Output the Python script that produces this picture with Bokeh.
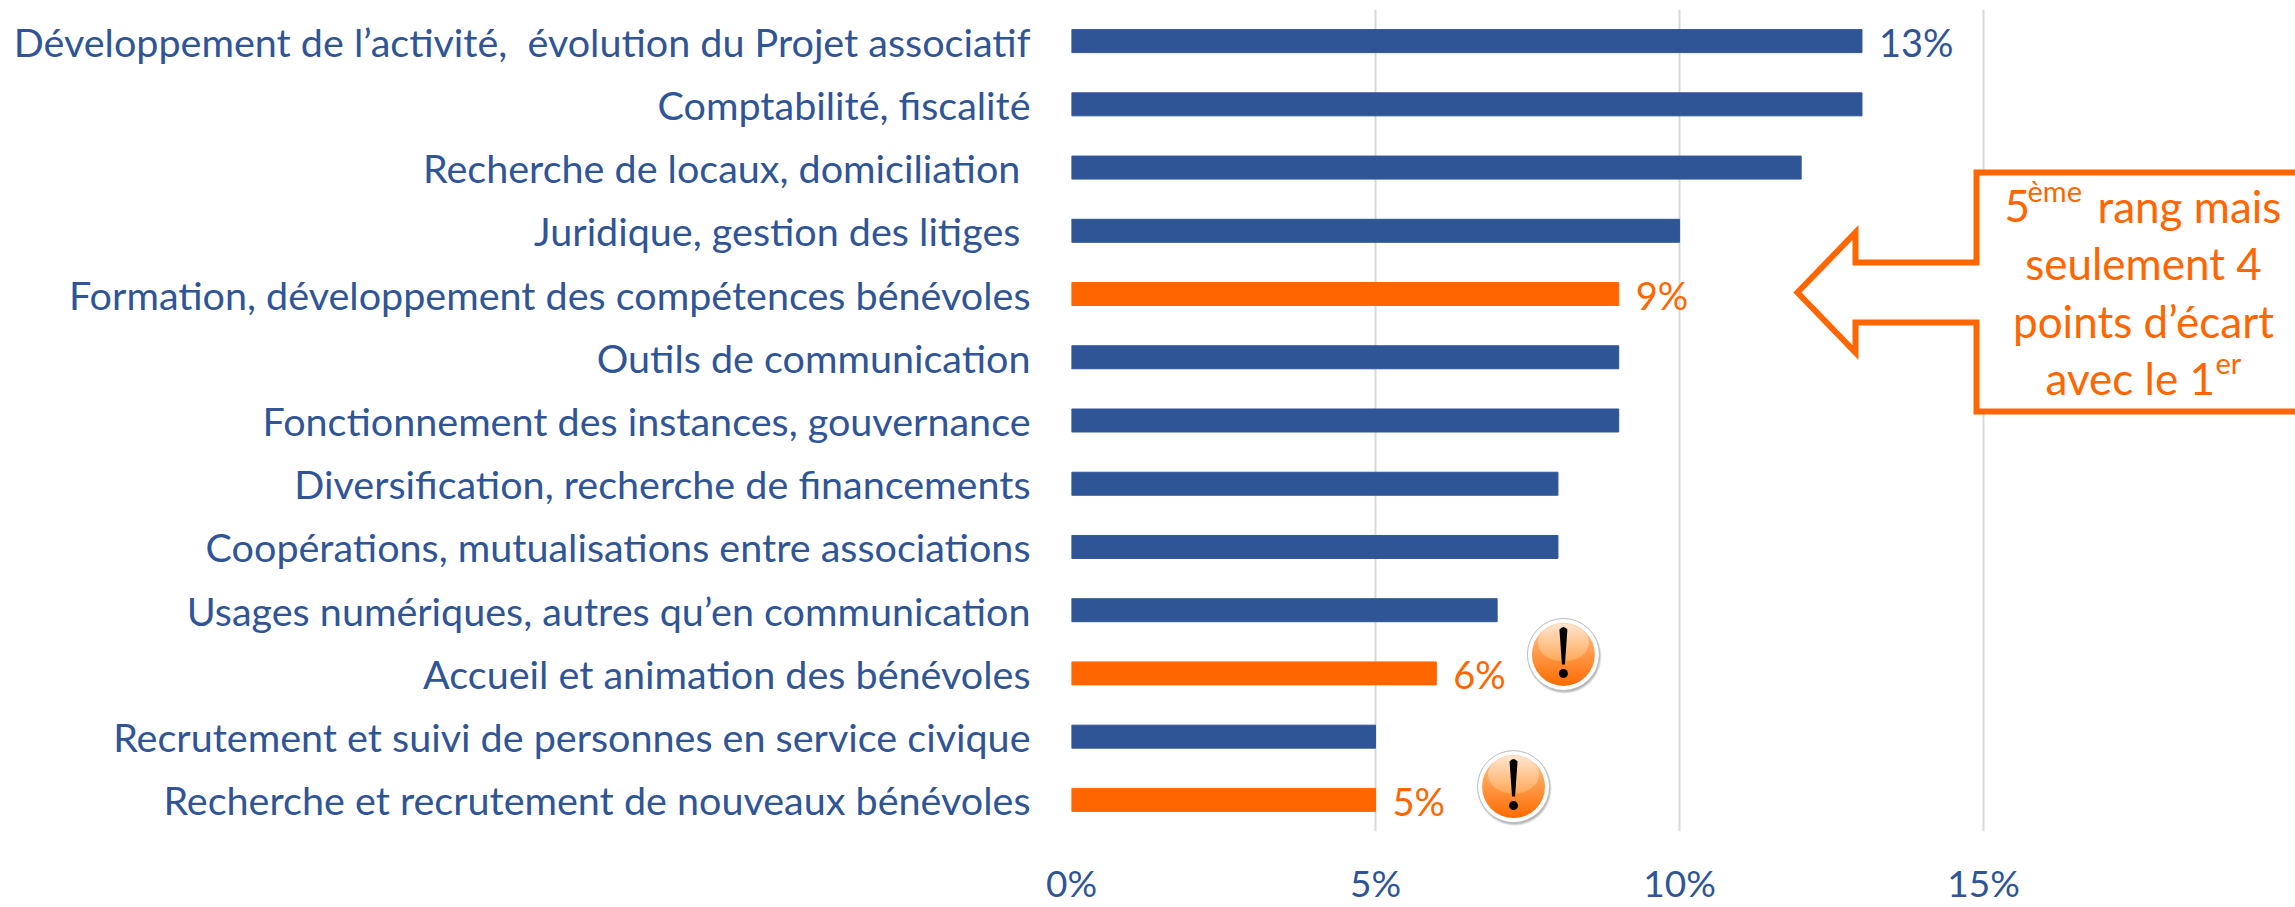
from urllib.parse import quote
from bokeh.embed import file_html
from bokeh.resources import INLINE
from bokeh.plotting import figure
from bokeh.models import (ColumnDataSource, FactorRange, Range1d, FixedTicker, Label,
                          PolyAnnotation, CustomJSTickFormatter)
from bokeh.transform import dodge
from bokeh.core.properties import value

categories = [
    "Développement de l’activité,\u00a0\u00a0évolution du Projet associatif",
    "Comptabilité, fiscalité",
    "Recherche de locaux, domiciliation\u00a0",
    "Juridique, gestion des litiges\u00a0",
    "Formation, développement des compétences bénévoles",
    "Outils de communication",
    "Fonctionnement des instances, gouvernance",
    "Diversification, recherche de financements",
    "Coopérations, mutualisations entre associations",
    "Usages numériques, autres qu’en communication",
    "Accueil et animation des bénévoles",
    "Recrutement et suivi de personnes en service civique",
    "Recherche et recrutement de nouveaux bénévoles",
]
values = [13, 13, 12, 10, 9, 9, 9, 8, 8, 7, 6, 5, 5]
highlighted = [False, False, False, False, True, False, False, False, False, False, True, False, True]
labelled = [True, False, False, False, True, False, False, False, False, False, True, False, True]
x_ticks = [0, 5, 10, 15]

BLUE = "#2F5597"
ORANGE = "#FF6600"
FONT = "Lato"
W, H = 2295, 907
FRAME_LEFT, FRAME_TOP, FRAME_BOTTOM = 1071, 9, 831


def sx(px):
    return px - FRAME_LEFT


def sy(py):
    return FRAME_BOTTOM - py


p = figure(width=W, height=H, output_backend="svg", toolbar_location=None,
           x_range=Range1d(0, 20.13), y_range=FactorRange(factors=categories[::-1]),
           min_border_left=FRAME_LEFT, min_border_top=FRAME_TOP,
           min_border_bottom=H - FRAME_BOTTOM, min_border_right=0)
p.outline_line_color = None
p.background_fill_color = "white"

colors = [ORANGE if h else BLUE for h in highlighted]
src = ColumnDataSource(dict(y=categories, v=values, c=colors))
p.hbar(y="y", right="v", left=0, height=0.3636, color="c", source=src)

lab = ColumnDataSource(dict(
    y=[c for c, f in zip(categories, labelled) if f],
    v=[v for v, f in zip(values, labelled) if f],
    t=[f"{v}%" for v, f in zip(values, labelled) if f],
    c=[c for c, f in zip(colors, labelled) if f],
))
p.text(x="v", y="y", text="t", source=lab, text_color="c", text_font=value(FONT),
       text_font_size="38px", text_align="left", text_baseline="middle", x_offset=17, y_offset=1)

# x axis
p.xaxis.ticker = FixedTicker(ticks=x_ticks)
p.xaxis.formatter = CustomJSTickFormatter(code="return tick + '%'")
p.xaxis.axis_line_color = None
p.xaxis.major_tick_line_color = None
p.xaxis.major_tick_out = 0
p.xaxis.major_tick_in = 0
p.xaxis.minor_tick_line_color = None
p.xaxis.major_label_text_color = BLUE
p.xaxis.major_label_text_font = FONT
p.xaxis.major_label_text_font_size = "37px"
p.xaxis.major_label_standoff = 28
p.xgrid.ticker = FixedTicker(ticks=x_ticks)
p.xgrid.grid_line_color = "#D9D9D9"
p.xgrid.grid_line_width = 2
p.ygrid.visible = False

# y axis
p.yaxis.axis_line_color = None
p.yaxis.major_tick_line_color = None
p.yaxis.major_tick_out = 0
p.yaxis.major_tick_in = 0
p.yaxis.minor_tick_line_color = None
p.yaxis.major_label_text_color = BLUE
p.yaxis.major_label_text_font = FONT
p.yaxis.major_label_text_font_size = "39.5px"
p.yaxis.major_label_standoff = 41

# warning icons
icon = """<svg xmlns='http://www.w3.org/2000/svg' width='80' height='80' viewBox='0 0 80 80'>
<defs>
<linearGradient id='g' x1='0' y1='0' x2='0' y2='1'><stop offset='0' stop-color='#FFC78F'/><stop offset='1' stop-color='#FF6A00'/></linearGradient>
<linearGradient id='h' x1='0' y1='0' x2='0' y2='1'><stop offset='0' stop-color='#FFE6D0'/><stop offset='1' stop-color='#FFA858'/></linearGradient>
<radialGradient id='s'><stop offset='0.85' stop-color='#333' stop-opacity='0.7'/><stop offset='1' stop-color='#333' stop-opacity='0'/></radialGradient>
</defs>
<circle cx='41' cy='42' r='37.5' fill='url(#s)'/>
<circle cx='40' cy='40' r='36' fill='white' stroke='#BBBBBB' stroke-width='1'/>
<circle cx='40' cy='40' r='31.5' fill='url(#g)'/>
<ellipse cx='40' cy='28' rx='25.5' ry='19' fill='url(#h)'/>
<path d='M36 15 Q40 10 44 15 L41.5 50 L38.5 50 Z' fill='black'/>
<circle cx='40' cy='59' r='4.5' fill='black'/>
</svg>"""
uri = "data:image/svg+xml," + quote(icon)
for cat, xpos, lift in [("Accueil et animation des bénévoles", 8.09, 0.30),
                        ("Recherche et recrutement de nouveaux bénévoles", 7.27, 0.21)]:
    icons = ColumnDataSource(dict(url=[uri], x=[xpos], y=[cat]))
    p.image_url(url="url", x="x", y=dodge("y", lift, range=p.y_range), w=80, h=80,
                w_units="screen", h_units="screen", anchor="center", source=icons)

# callout arrow
arrow_x = [2310, 1976, 1976, 1855, 1855, 1797, 1855, 1855, 1976, 1976, 2310]
arrow_y = [172, 172, 262, 262, 232, 292, 352, 322, 322, 411, 411]
p.add_layout(PolyAnnotation(xs=[sx(x) for x in arrow_x], ys=[sy(y) for y in arrow_y],
                            xs_units="screen", ys_units="screen",
                            fill_color="white", fill_alpha=1,
                            line_color=ORANGE, line_alpha=1, line_width=6, line_join="miter"))

TEXT_SHIFT = 17
pieces = [
    ("5", 2004, 222, "left", 44), ("ème", 2027, 207, "left", 29), ("rang mais", 2097, 222, "left", 44),
    ("seulement 4", 2143, 279, "center", 44),
    ("points d’écart", 2143, 337, "center", 44),
    ("avec le 1", 2045, 394, "left", 44), ("er", 2215, 379, "left", 29),
]
for t, x, y, al, fs in pieces:
    p.add_layout(Label(x=sx(x), y=sy(y - TEXT_SHIFT), x_units="screen", y_units="screen", text=t,
                       text_color=ORANGE, text_font=FONT, text_font_size=f"{fs}px",
                       text_align=al, text_baseline="alphabetic"))

open("out.html", "w").write(file_html(p, INLINE))
